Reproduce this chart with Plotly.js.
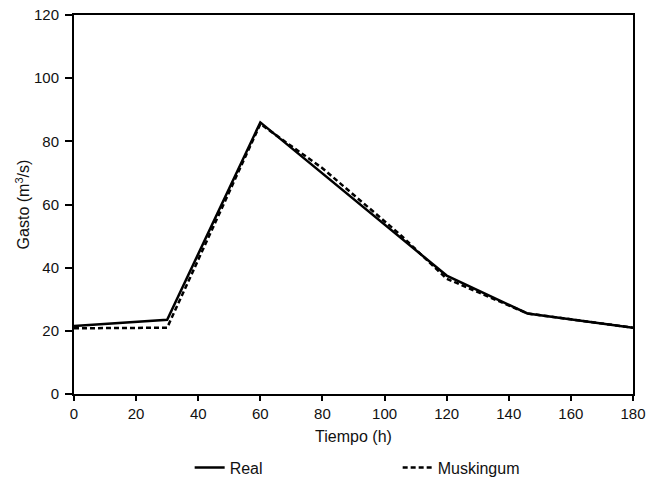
<!DOCTYPE html>
<html><head><meta charset="utf-8">
<script src="https://cdn.plot.ly/plotly-3.0.1.min.js"></script>
<style>body{margin:0;background:#fff}#chart{width:648px;height:482px}</style>
</head><body><div id="chart"></div>
<script>
const realX = [0, 30, 60, 105, 120, 146, 180];
const realY = [21.5, 23.5, 86, 49.5, 37.5, 25.5, 21];
const muskX = [0, 30, 60, 80, 105, 120, 146, 180];
const muskY = [20.8, 21, 85.5, 71.5, 50.5, 36.5, 25.5, 21];
const xTicks = [0, 20, 40, 60, 80, 100, 120, 140, 160, 180];
const yTicks = [0, 20, 40, 60, 80, 100, 120];

const tickFont = {family: 'Liberation Sans, Arial, sans-serif', size: 15, color: '#111'};
const titleFont = {family: 'Liberation Sans, Arial, sans-serif', size: 16, color: '#111'};
const legFont = {family: 'Liberation Sans, Arial, sans-serif', size: 16, color: '#111'};
const traces = [
  {x: realX, y: realY, mode: 'lines', name: 'Real', line: {color: '#000', width: 2.5}},
  {x: muskX, y: muskY, mode: 'lines', name: 'Muskingum', line: {color: '#000', width: 2.5, dash: '5px,3px'}}
];
const layout = {
  width: 648, height: 482,
  margin: {l: 74, r: 15, t: 15, b: 88},
  paper_bgcolor: '#fff', plot_bgcolor: '#fff',
  font: tickFont,
  showlegend: true,
  legend: {orientation: 'h', x: 0.579, xanchor: 'center', yref: 'container', y: 0.03, yanchor: 'middle',
           entrywidth: 163, font: legFont},
  xaxis: {range: [0, 180], tickvals: xTicks, ticktext: xTicks.map(String), automargin: false,
          showgrid: false, zeroline: false, showline: true, linecolor: '#000', linewidth: 2,
          mirror: true, ticks: 'outside', ticklen: 5, tickwidth: 1.5, tickcolor: '#000', tickfont: tickFont,
          title: {text: 'Tiempo (h)', font: titleFont, standoff: 10}},
  yaxis: {range: [0, 120], tickvals: yTicks, ticktext: yTicks.map(String), automargin: false,
          showgrid: false, zeroline: false, showline: true, linecolor: '#000', linewidth: 2,
          mirror: true, ticks: 'outside', ticklen: 7, tickwidth: 1.5, tickcolor: '#000', tickfont: tickFont,
          ticklabelstandoff: 3,
          title: {text: 'Gasto (m<sup>3</sup>/s)', font: titleFont, standoff: 0}}
};
Plotly.newPlot('chart', traces, layout, {displayModeBar: false});
</script></body></html>
